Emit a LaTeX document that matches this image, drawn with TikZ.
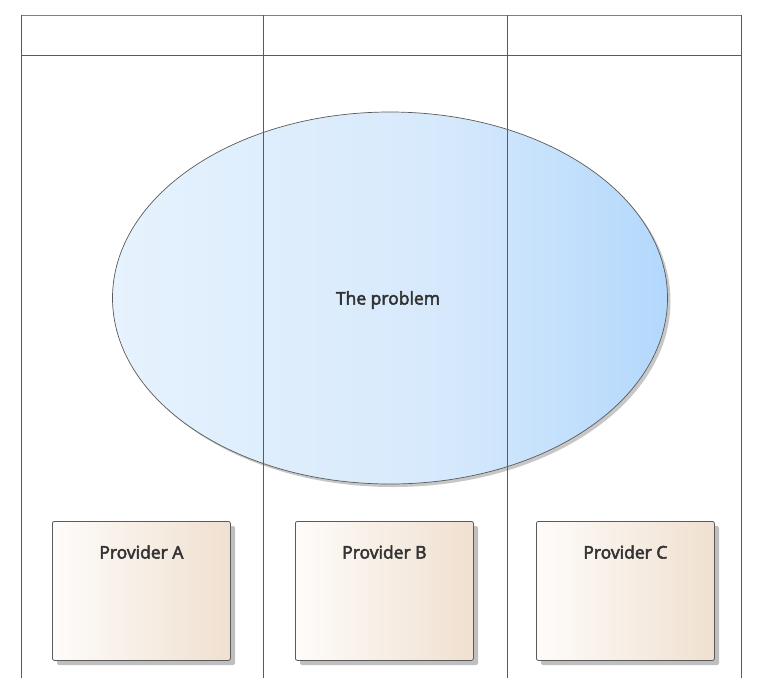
\documentclass[tikz,border=0pt]{standalone}
\usepackage{fontspec}
\setmainfont{Open Sans}[FakeBold=3]
\definecolor{linegray}{HTML}{5A5A5A}
\definecolor{ellL}{HTML}{E6F2FD}
\definecolor{ellM}{HTML}{D6E9FC}
\definecolor{ellR}{HTML}{B3D8FC}
\definecolor{boxL}{HTML}{FEFCFA}
\definecolor{boxR}{HTML}{F0E0D0}
\pgfdeclarehorizontalshading{ellshade}{100bp}{color(0bp)=(ellL); color(25bp)=(ellL); color(55bp)=(ellM); color(75bp)=(ellR); color(100bp)=(ellR)}
\tikzset{
  lane/.style={draw=linegray, line width=1pt},
  provider/.style={draw=linegray, line width=0.8pt, rounded corners=2pt,
    left color=boxL, right color=boxR, minimum width=178pt, minimum height=139pt,
    anchor=north west, inner sep=0pt},
  pshadow/.style={fill=black!25, rounded corners=2pt},
  ptext/.style={font=\fontsize{17.5}{20}\selectfont, text=black!80},
}
\begin{document}
\begin{tikzpicture}[x=1pt,y=-1pt]
\useasboundingbox (0,0) rectangle (759,678);
% ellipse with shadow
\fill[black!22] (393,301) ellipse [x radius=277.5, y radius=186];
\shade[shading=ellshade, draw=linegray, line width=0.7pt] (390,298) ellipse [x radius=277.5, y radius=186];
\node[ptext] (prob) at (388,300) {The problem};
% frame and lanes
\draw[draw=black!50, line width=1pt] (21,15) -- (741,15);
\draw[lane] (21,55) -- (741,55);
\draw[lane] (21,15) -- (21,678);
\draw[lane] (263,15) -- (263,678);
\draw[lane] (507,15) -- (507,678);
\draw[lane] (741,15) -- (741,678);
% providers (shadows)
\fill[pshadow] (57,526) rectangle ++(178,139);
\fill[pshadow] (300,526) rectangle ++(178,139);
\fill[pshadow] (541,526) rectangle ++(178,139);
\node[provider] (pa) at (52,521) {};
\node[provider] (pb) at (295,521) {};
\node[provider] (pc) at (536,521) {};
\node[ptext] (ta) at ([yshift=-31pt]pa.north) {Provider A};
\node[ptext] (tb) at ([yshift=-31pt]pb.north) {Provider B};
\node[ptext] (tc) at ([yshift=-31pt]pc.north) {Provider C};
\end{tikzpicture}
\end{document}
